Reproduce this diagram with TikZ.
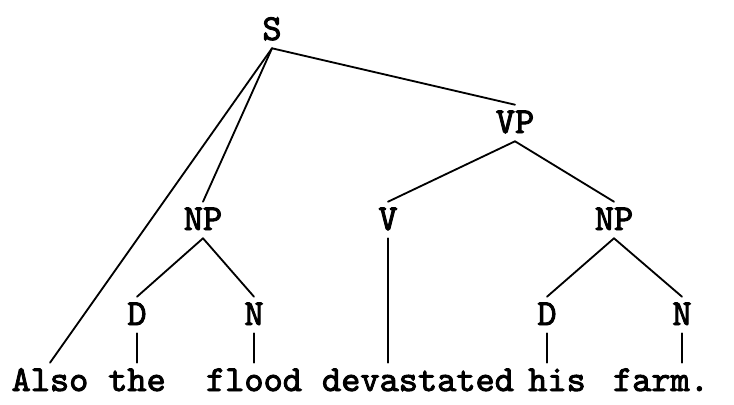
\documentclass[tikz,border=0pt]{standalone}
\usepackage{fontspec}
\newfontfamily\treefont{lmmono10-regular.otf}[FakeBold=2.5]

\begin{document}
\begin{tikzpicture}[x=0.025cm,y=-0.025cm,
  cat/.style={anchor=base,inner xsep=0pt,inner ysep=0.2cm,text height=0.5cm,text depth=0pt,
    font=\treefont\bfseries\fontsize{26}{30}\selectfont},
  word/.style={cat},
  branch/.style={line width=1.3pt,line cap=round}]

\useasboundingbox (0,0) rectangle (734,404);

\node[cat] (s) at (272,40) {S};
\node[cat] (vp) at (515,133) {VP};

\node[cat] (np1) at (203,230) {NP};
\node[cat] (v) at (388,230) {V};
\node[cat] (np2) at (614,230) {NP};

\node[cat] (d1) at (137,325) {D};
\node[cat] (n1) at (254,325) {N};
\node[cat] (d2) at (547,325) {D};
\node[cat] (n2) at (682,325) {N};

\node[word] (also) at (50,391) {Also};
\node[word] (the) at (137,391) {the};
\node[word] (flood) at (254,391) {flood};
\node[word] (devastated) at (418,391) {devastated};
\node[word] (his) at (557,391) {his};
\node[word] (farm) at (661,391) {farm.};


\draw[branch] (s.south) -- (also.north);
\draw[branch] (s.south) -- (np1.north);
\draw[branch] (s.south) -- (vp.north);

\draw[branch] (vp.south) -- (v.north);
\draw[branch] (vp.south) -- (np2.north);

\draw[branch] (np1.south) -- (d1.north);
\draw[branch] (np1.south) -- (n1.north);
\draw[branch] (np2.south) -- (d2.north);
\draw[branch] (np2.south) -- (n2.north);

\draw[branch] (d1.south) -- (the.north);
\draw[branch] (n1.south) -- (flood.north);
\draw[branch] (v.south) -- (v.south |- devastated.north);
\draw[branch] (d2.south) -- (d2.south |- his.north);
\draw[branch] (n2.south) -- (n2.south |- farm.north);

\end{tikzpicture}
\end{document}
